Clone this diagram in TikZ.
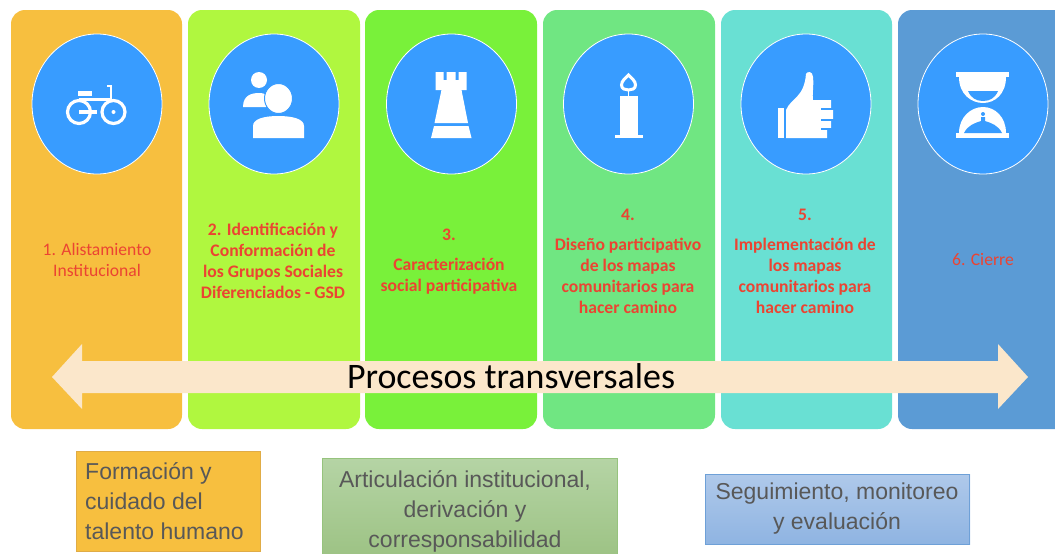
\documentclass[tikz,border=0pt]{standalone}
\usepackage{fontspec}
\usetikzlibrary{shapes.geometric}
\setmainfont{Carlito}
\newfontfamily\boxfont{Liberation Sans}
\definecolor{colA}{RGB}{247,191,63}
\definecolor{colB}{RGB}{176,247,63}
\definecolor{colC}{RGB}{121,241,58}
\definecolor{colD}{RGB}{112,230,130}
\definecolor{colE}{RGB}{105,224,211}
\definecolor{colF}{RGB}{91,155,213}
\definecolor{discBlue}{RGB}{56,156,255}
\definecolor{creamArrow}{RGB}{251,231,203}
\definecolor{stageRed}{RGB}{235,68,50}
\definecolor{boxText}{RGB}{88,88,88}
\definecolor{greenTop}{RGB}{181,212,165}
\definecolor{greenBot}{RGB}{156,194,131}
\definecolor{greenEdge}{RGB}{150,195,125}
\definecolor{blueTop}{RGB}{175,201,234}
\definecolor{blueBot}{RGB}{143,180,226}
\definecolor{blueEdge}{RGB}{110,160,215}
\definecolor{orangeEdge}{RGB}{224,172,70}
\tikzset{
  stage/.style={rounded corners=14pt,fill=#1},
  disc/.style={ellipse,draw=white,line width=0.8pt,fill=discBlue,minimum width=130pt,minimum height=140pt,inner sep=0pt},
  stagetext/.style={text=stageRed,align=center,font=\fontsize{17.6}{21}\selectfont},
  stagebold/.style={stagetext,font=\bfseries\fontsize{17.6}{21}\selectfont},
  transbox/.style={draw=#1,line width=1pt,inner sep=0pt},
  boxtext/.style={text=boxText,inner sep=0pt,font=\boxfont\fontsize{23}{30}\selectfont}
}
\begin{document}
\begin{tikzpicture}[x=1pt,y=-1pt]
\useasboundingbox (0,0) rectangle (1055,554);
\begin{scope}
\clip (0,0) rectangle (1055,554);
% columns
\foreach \XL/\XR/\COL in {11/182/colA,188/360/colB,365/537/colC,543/715/colD,721/892/colE,898/1090/colF}{
\fill[stage=\COL] (\XL,10) rectangle (\XR,429);
}
\foreach \NAME/\XC in {discA/97,discB/274,discC/451.5,discD/628.5,discE/806,discF/983}{
\node[disc] (\NAME) at (\XC,104) {};
}
% bicycle
\begin{scope}[shift={(discA.center)},white]
\draw[white,line width=3.2pt] (-18,8) circle (11.5);
\draw[white,line width=3.2pt] (16.5,8) circle (11.5);
\fill (16.5,8) circle (2);
\draw[white,line width=3.2pt] (-18,8)--(0,8);
\draw[white,line width=3.2pt] (-18,-4.5)--(13,-4.5);
\draw[white,line width=2pt] (14,-4)--(14,-18)--(10,-18);
\fill (-19,-13) rectangle (-5,-8);
\end{scope}
% persons
\begin{scope}[shift={(discB.center)},white]
\fill (-15,-24) circle (8);
\fill (-31,3) .. controls (-31,-9) and (-22,-11) .. (-15,-11) .. controls (-11,-11) and (-9,-10) .. (-8,-9) -- (-8,3)--cycle;
\fill[draw=discBlue,line width=1pt] (4.5,-5.5) ellipse (14 and 15);
\fill (-21,34) -- (-21,22) .. controls (-21,15) and (-10,12) .. (4,12) .. controls (19,12) and (30,15) .. (30,22) -- (30,34)--cycle;
\end{scope}
% rook
\begin{scope}[shift={(discC.center)},white]
\fill (-16,-32)--(-8,-32)--(-8,-24)--(-5,-24)--(-5,-32)--(4,-32)--(4,-24)--(7,-24)--(7,-32)--(15,-32)--(15,-14)--(10,-14)--(16.5,19)--(-17,19)--(-10,-14)--(-16,-14)--cycle;
\fill (-17.5,22)--(17,22)--(20,34)--(-20.5,34)--cycle;
\end{scope}
% candle
\begin{scope}[shift={(discD.center)},white]
\fill (-9,-8) rectangle (9,32);
\fill (-14,31) rectangle (14,34);
\draw[white,line width=1pt] (0,-14)--(0,-8);
\draw[white,line width=3pt] (0,-29) .. controls (-3,-26) and (-7,-23) .. (-7,-19) .. controls (-7,-15) and (-3,-14) .. (0,-14) .. controls (3,-14) and (7,-15) .. (7,-19) .. controls (7,-23) and (3,-26) .. (0,-29)--cycle;
\end{scope}
% thumb
\begin{scope}[shift={(discE.center)},white]
\fill (-28,4) rectangle (-22,34);
\fill (-20,34)--(-20,6) .. controls (-15,-6) and (-2,-6) .. (0,-30) .. controls (1,-33) and (7,-33) .. (7,-27) .. controls (8,-18) and (6,-9) .. (7,-4)--(25,-4)--(25,5)--(27,5)--(27,16)--(25,16)--(25,25)--(21,25)--(21,34)--cycle;
\foreach \YS in {5,16,25}{
\fill[discBlue] (15,\YS-0.8) rectangle (28,\YS+0.8);
}
\end{scope}
% hourglass
\begin{scope}[shift={(discF.center)},white]
\fill (-27,-32) rectangle (26,-27);
\fill (-27,29) rectangle (26,34);
\fill (-24,-27) .. controls (-24,-10) and (-12,-1) .. (0,-1) .. controls (12,-1) and (23,-10) .. (23,-27) --cycle;
\fill[discBlue] (-15,-13)--(15,-13) .. controls (12,-6) and (7,-3) .. (0,-3) .. controls (-7,-3) and (-12,-6) .. (-15,-13)--cycle;
\fill (-24,29) .. controls (-24,13) and (-12,3) .. (0,3) .. controls (12,3) and (23,13) .. (23,29) --cycle;
\fill[discBlue] (-19,29) .. controls (-15,21) and (-8,19) .. (-2,17) -- (-2,13) -- (2,13)--(2,17) .. controls (8,19) and (15,21) .. (19,29)--cycle;
\fill[discBlue] (0,10) circle (2);
\end{scope}
% stage labels
\node[stagetext] (labelA) at (97,260) {1. Alistamiento\\Institucional};
\node[stagebold] (labelB) at (273,260.5) {2. Identificación y\\Conformación de\\los Grupos Sociales\\Diferenciados - GSD};
\node[stagebold] (labelC) at (449,261.5) {3.\\[9pt]Caracterización\\social participativa};
\node[stagebold] (labelD) at (628,261) {4.\\[9pt]Diseño participativo\\de los mapas\\comunitarios para\\hacer camino};
\node[stagebold] (labelE) at (805,261) {5.\\[9pt]Implementación de\\los mapas\\comunitarios para\\hacer camino};
\node[stagetext] (labelF) at (983,260) {6. Cierre};
% band
\fill[creamArrow] (52,377)--(82,344)--(82,361)--(998,361)--(998,344)--(1028,377)--(998,409)--(998,393)--(82,393)--(82,409)--cycle;
\node[font=\fontsize{35.9}{40}\selectfont] (bandLabel) at (511,376) {Procesos transversales};
% boxes below
\node[transbox=orangeEdge,fill=colA,minimum width=184pt,minimum height=100pt] (boxA) at (168.5,501) {};
\node[boxtext,align=left,anchor=west] (textA) at (85,501) {Formación y\\cuidado del\\talento humano};
\shade[top color=greenTop,bottom color=greenBot] (322,458) rectangle (617,560);
\node[transbox=greenEdge,minimum width=295pt,minimum height=102pt,anchor=north] (boxB) at (469.5,458) {};
\node[boxtext,align=center,anchor=north] (textB) at (465,470) {Articulación institucional,\\derivación y\\corresponsabilidad};
\shade[top color=blueTop,bottom color=blueBot] (705,474) rectangle (970,544);
\node[transbox=blueEdge,minimum width=264pt,minimum height=70pt] (boxC) at (837.5,509) {};
\node[boxtext,align=center] (textC) at (837,509) {Seguimiento, monitoreo\\y evaluación};
\end{scope}
\end{tikzpicture}
\end{document}
